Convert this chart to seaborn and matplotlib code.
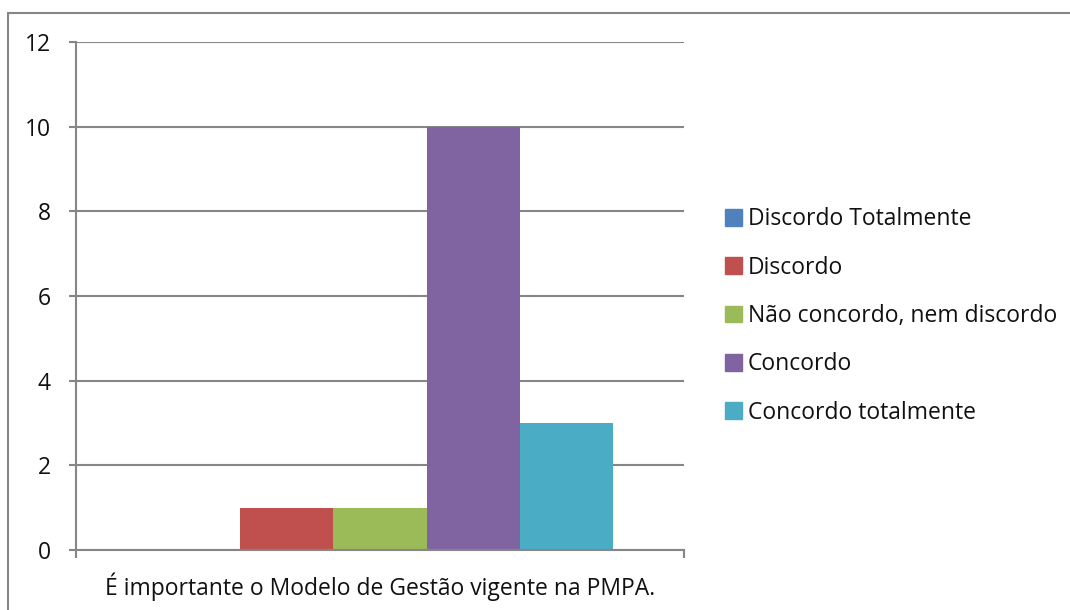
import matplotlib
matplotlib.use("Agg")
import matplotlib.pyplot as plt
import seaborn as sns
import pandas as pd
from matplotlib.lines import Line2D

category = ["É importante o Modelo de Gestão vigente na PMPA."]
series = ["Discordo Totalmente", "Discordo", "Não concordo, nem discordo",
          "Concordo", "Concordo totalmente"]
values = [0, 1, 1, 10, 3]
colors = ["#4F81BD", "#C0504D", "#9BBB59", "#8064A2", "#4BACC6"]
y_ticks = [0, 2, 4, 6, 8, 10, 12]

df = pd.DataFrame({"pergunta": category * len(series), "resposta": series, "valor": values})

sns.set_style("white")
plt.rcParams["font.family"] = ["Open Sans", "DejaVu Sans"]
grid_color = "#868686"
fs = 16.5

fig = plt.figure(figsize=(10.7, 6.1), dpi=100)
ax = fig.add_axes([76 / 1070, 60 / 610, 608 / 1070, 508 / 610])

sns.barplot(data=df, x="pergunta", y="valor", hue="resposta", hue_order=series,
            palette=colors, width=0.765, saturation=1, linewidth=0, ax=ax, legend=False)

ax.set_ylim(0, 12)
ax.set_xlim(-0.5, 0.5)
ax.set_yticks(y_ticks)
ax.set_yticklabels([str(t) for t in y_ticks], fontsize=fs, color="#111111")
ax.yaxis.grid(True, color=grid_color, linewidth=1.5)
ax.set_axisbelow(True)
ax.set_xlabel("")
ax.set_ylabel("")
ax.set_xticks([-0.5, 0.5])
ax.set_xticklabels(["", ""])
ax.text(0, -0.045, category[0], transform=ax.get_xaxis_transform(),
        ha="center", va="top", fontsize=fs, color="#111111")
ax.tick_params(axis="y", length=5, width=1.5, color=grid_color, pad=13, left=True)
ax.tick_params(axis="x", length=5.5, width=1.5, color=grid_color, bottom=True)
for side in ["top", "right"]:
    ax.spines[side].set_visible(False)
for side in ["left", "bottom"]:
    ax.spines[side].set_color(grid_color)
    ax.spines[side].set_linewidth(1.5)

handles = [plt.Rectangle((0, 0), 1, 1, color=c) for c in colors]
leg = fig.legend(handles, series, loc="center left", bbox_to_anchor=(725 / 1070, 1 - 316 / 610),
                 frameon=False, fontsize=fs, handlelength=0.75, handleheight=0.75,
                 handletextpad=0.25, labelspacing=1.06, borderpad=0, borderaxespad=0)
for t in leg.get_texts():
    t.set_color("#111111")

# outer chart border
fig.add_artist(Line2D([8 / 1070, 8 / 1070], [0, 1 - 13 / 610], transform=fig.transFigure,
                      color=grid_color, linewidth=1.5))
fig.add_artist(Line2D([8 / 1070, 1], [1 - 13 / 610, 1 - 13 / 610], transform=fig.transFigure,
                      color=grid_color, linewidth=1.5))

fig.savefig("out.png", dpi=100)
